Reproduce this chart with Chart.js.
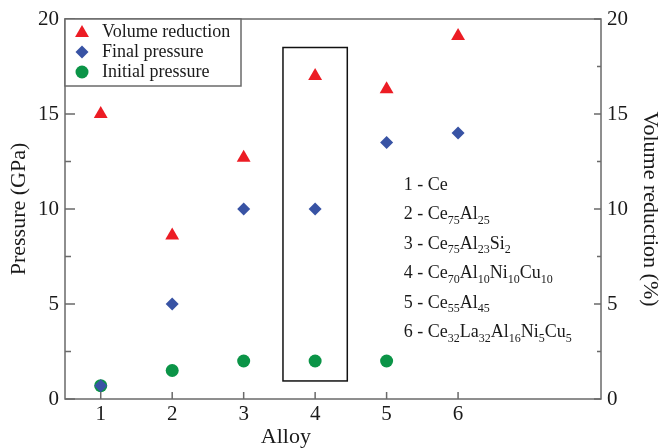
<!DOCTYPE html>
<html>
<head>
<meta charset="utf-8">
<script src="https://cdn.jsdelivr.net/npm/chart.js@4/dist/chart.umd.min.js"></script>
<style>
  html, body { margin: 0; padding: 0; background: #fff; }
  #wrap { width: 663px; height: 448px; }
</style>
</head>
<body>
<div id="wrap"><canvas id="chart" width="663" height="448"></canvas></div>
<script>
const alloys = [1, 2, 3, 4, 5, 6];
const volumeReduction = [15.0, 8.6, 12.7, 17.0, 16.3, 19.1];
const finalPressure = [0.7, 5, 10, 10, 13.5, 14];
const initialPressure = [0.7, 1.5, 2, 2, 2];
const yTicks = [0, 5, 10, 15, 20];
const alloyNames = [
    "1 - Ce",
    "2 - Ce_75Al_25",
    "3 - Ce_75Al_23Si_2",
    "4 - Ce_70Al_10Ni_10Cu_10",
    "5 - Ce_55Al_45",
    "6 - Ce_32La_32Al_16Ni_5Cu_5"
];
const seriesNames = ["Volume reduction", "Final pressure", "Initial pressure"];
const seriesColors = ["#ec1c24", "#3853a4", "#0b9447"];
const seriesShapes = ["triangle", "rectRot", "circle"];

const SERIF = "'Liberation Serif', 'DejaVu Serif', serif";
const AXIS = "#6a6a6a";

function pts(xs, ys) {
    return ys.map((y, i) => ({ x: xs[i], y: y }));
}

function drawShape(ctx, shape, x, y, r, color) {
    ctx.fillStyle = color;
    ctx.beginPath();
    if (shape === "triangle") {
        ctx.moveTo(x, y - r);
        ctx.lineTo(x + r * 0.866, y + r * 0.5);
        ctx.lineTo(x - r * 0.866, y + r * 0.5);
    } else if (shape === "rectRot") {
        ctx.moveTo(x, y - r);
        ctx.lineTo(x + r, y);
        ctx.lineTo(x, y + r);
        ctx.lineTo(x - r, y);
    } else {
        ctx.arc(x, y, r, 0, Math.PI * 2);
    }
    ctx.closePath();
    ctx.fill();
}

function drawFormula(ctx, text, x, y) {
    const parts = text.split(/_(\d+)/);
    let cx = x;
    parts.forEach((p, i) => {
        const sub = i % 2 === 1;
        ctx.font = (sub ? "12px " : "18px ") + SERIF;
        ctx.fillText(p, cx, sub ? y + 6 : y);
        cx += ctx.measureText(p).width;
    });
}

const decor = {
    id: "decor",
    afterDatasetsDraw(chart) {
        const ctx = chart.ctx;
        const a = chart.chartArea;
        const xs = chart.scales.x, ys = chart.scales.y, y2 = chart.scales.y2;
        ctx.save();

        // highlighted box around alloy 4
        ctx.strokeStyle = "#111";
        ctx.lineWidth = 1.5;
        const bx1 = xs.getPixelForValue(3.55), bx2 = xs.getPixelForValue(4.45);
        const by1 = ys.getPixelForValue(18.5), by2 = ys.getPixelForValue(0.95);
        ctx.strokeRect(bx1, by1, bx2 - bx1, by2 - by1);

        // frame + inward ticks
        ctx.strokeStyle = AXIS;
        ctx.lineWidth = 1.5;
        ctx.strokeRect(a.left, a.top, a.right - a.left, a.bottom - a.top);
        ctx.beginPath();
        for (let v = 0; v <= 20; v += 2.5) {
            const major = v % 5 === 0;
            const py = ys.getPixelForValue(v);
            ctx.moveTo(a.left, py);
            ctx.lineTo(a.left + (major ? 10 : 6), py);
            const py2 = y2.getPixelForValue(v);
            ctx.moveTo(a.right, py2);
            ctx.lineTo(a.right - (major ? 7 : 4), py2);
        }
        alloys.forEach(v => {
            const px = xs.getPixelForValue(v);
            ctx.moveTo(px, a.bottom);
            ctx.lineTo(px, a.bottom - 7);
        });
        ctx.stroke();

        // alloy composition list
        ctx.fillStyle = "#1a1a1a";
        ctx.textBaseline = "middle";
        ctx.textAlign = "left";
        const tx = xs.getPixelForValue(5.24);
        const ty = ys.getPixelForValue(11.25);
        alloyNames.forEach((t, i) => drawFormula(ctx, t, tx, ty + i * 29.5));

        // legend box
        const lw = 176, lh = 67;
        ctx.fillStyle = "#fff";
        ctx.fillRect(a.left, a.top, lw, lh);
        ctx.strokeStyle = AXIS;
        ctx.lineWidth = 1.5;
        ctx.strokeRect(a.left, a.top, lw, lh);
        seriesNames.forEach((name, i) => {
            const cy = a.top + 13 + i * 20;
            drawShape(ctx, seriesShapes[i], a.left + 17, cy + (i === 0 ? 1 : 0), i === 0 ? 8 : 6.5, seriesColors[i]);
            ctx.fillStyle = "#1a1a1a";
            ctx.font = "18px " + SERIF;
            ctx.fillText(name, a.left + 37, cy);
        });

        // x axis title
        ctx.font = "22px " + SERIF;
        ctx.textAlign = "center";
        ctx.fillText("Alloy", xs.getPixelForValue(3.59), 437);
        ctx.restore();
    }
};

new Chart(document.getElementById("chart"), {
    type: "scatter",
    data: {
        datasets: [
            {
                label: seriesNames[0],
                data: pts(alloys, volumeReduction),
                yAxisID: "y2",
                pointStyle: seriesShapes[0],
                backgroundColor: seriesColors[0],
                borderColor: seriesColors[0],
                borderWidth: 0,
                pointRadius: 8
            },
            {
                label: seriesNames[1],
                data: pts(alloys, finalPressure),
                yAxisID: "y",
                pointStyle: seriesShapes[1],
                backgroundColor: seriesColors[1],
                borderColor: seriesColors[1],
                borderWidth: 0,
                pointRadius: 6.5
            },
            {
                label: seriesNames[2],
                data: pts(alloys, initialPressure),
                yAxisID: "y",
                pointStyle: seriesShapes[2],
                backgroundColor: seriesColors[2],
                borderColor: seriesColors[2],
                borderWidth: 0,
                pointRadius: 6.5
            }
        ]
    },
    options: {
        responsive: false,
        animation: false,
        devicePixelRatio: 1,
        layout: { padding: { top: 19, left: 0, right: 0, bottom: 0 } },
        plugins: { legend: { display: false }, tooltip: { enabled: false } },
        scales: {
            x: {
                type: "linear",
                min: 0.5,
                max: 8,
                afterBuildTicks: s => { s.ticks = alloys.map(v => ({ value: v })); },
                afterFit: s => { s.height = 49; },
                grid: { display: false, drawTicks: false },
                border: { display: false },
                ticks: { color: "#1a1a1a", font: { family: SERIF, size: 21 }, padding: 3, maxRotation: 0 }
            },
            y: {
                position: "left",
                min: 0,
                max: 20,
                afterBuildTicks: s => { s.ticks = yTicks.map(v => ({ value: v })); },
                afterFit: s => { s.width = 65; },
                grid: { display: false, drawTicks: false },
                border: { display: false },
                ticks: { color: "#1a1a1a", font: { family: SERIF, size: 21 }, padding: 6 },
                title: { display: true, text: "Pressure (GPa)", color: "#1a1a1a", font: { family: SERIF, size: 22 }, padding: { top: 6 } }
            },
            y2: {
                position: "right",
                min: 0,
                max: 20,
                afterBuildTicks: s => { s.ticks = yTicks.map(v => ({ value: v })); },
                afterFit: s => { s.width = 62; },
                grid: { display: false, drawTicks: false },
                border: { display: false },
                ticks: { color: "#1a1a1a", font: { family: SERIF, size: 21 }, padding: 6 },
                title: { display: true, text: "Volume reduction (%)", color: "#1a1a1a", font: { family: SERIF, size: 22 }, padding: { top: 0 } }
            }
        }
    },
    plugins: [decor]
});
</script>
</body>
</html>
